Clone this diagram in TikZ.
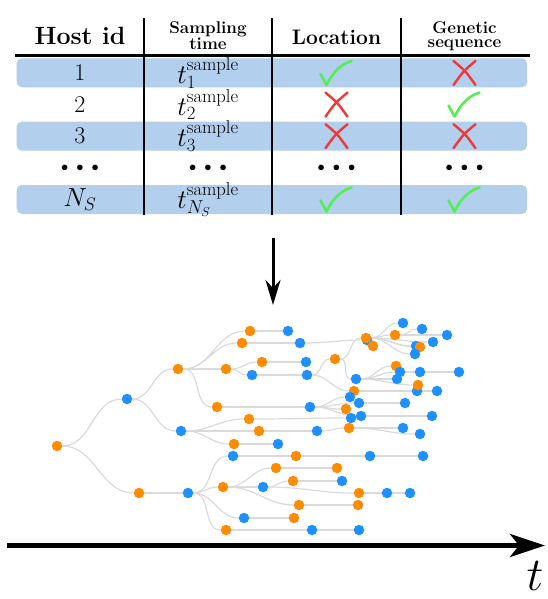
\documentclass[tikz,border=0pt]{standalone}
\usetikzlibrary{arrows.meta}
\definecolor{band}{RGB}{178,207,237}
\definecolor{ornode}{RGB}{255,140,0}
\definecolor{blnode}{RGB}{30,144,255}
\definecolor{edgegray}{RGB}{218,218,218}
\definecolor{chkgreen}{RGB}{85,238,85}
\definecolor{crossred}{RGB}{242,55,55}
\pgfdeclarelayer{bg}
\pgfsetlayers{bg,main}
\begin{document}
\begin{tikzpicture}[x=1pt,y=-1pt,
  onode/.style={circle,fill=ornode,inner sep=0pt,minimum size=10.5pt},
  bnode/.style={circle,fill=blnode,inner sep=0pt,minimum size=10.5pt},
  link/.style={draw=edgegray,line width=1.2pt},
  bandbox/.style={fill=band,rounded corners=5pt},
  rule/.style={line width=1.8pt},
  thickrule/.style={line width=3.6pt},
  cell/.style={font=\fontsize{24}{28}\selectfont,inner sep=0pt},
  tcell/.style={font=\fontsize{24}{28}\selectfont,inner sep=0pt,scale=1.08},
  dotcell/.style={font=\fontsize{15}{18}\selectfont,inner sep=0pt},
  headbig/.style={font=\fontsize{25}{28}\selectfont\bfseries,inner sep=0pt},
  headmid/.style={font=\fontsize{21}{24}\selectfont\bfseries,inner sep=0pt},
  headtwo/.style={font=\fontsize{17}{14.5}\selectfont\bfseries,align=center,inner sep=0pt},
  chk/.pic={\draw[chkgreen,line width=2.6pt,line cap=round,line join=round]
      (-16,1) .. controls (-13,6) .. (-10,12) .. controls (-4,0) and (4,-9) .. (15,-12);},
  crs/.pic={\draw[crossred,line width=2.4pt,line cap=round]
      (-11,-12) .. controls (1,-2) .. (11,12);
    \draw[crossred,line width=2.4pt,line cap=round]
      (11,-12) .. controls (-1,-2) .. (-11,12);},
  bigarrow/.style={line width=3pt,-{Stealth[length=25pt,width=15pt,inset=8pt]}},
  axis/.style={line width=5pt,-{Stealth[length=35pt,width=23pt,inset=9pt]}}
]
\useasboundingbox (0,0) rectangle (548,599);

% ---------- table ----------
\fill[bandbox] (16.7,58.3) rectangle (527,87.3);
\fill[bandbox] (16.7,121.7) rectangle (527,150.7);
\fill[bandbox] (16.7,185) rectangle (527,214);
\draw[thickrule] (15,55.7) -- (530,55.7);
\draw[rule] (144,18) -- (144,215);
\draw[rule] (272,18) -- (272,215);
\draw[rule] (401,18) -- (401,215);

\node[headbig] (h1) at (80,36) {Host id};
\node[headtwo] (h2) at (208,36) {Sampling\\time};
\node[headmid] (h3) at (336.5,37) {Location};
\node[headtwo] (h4) at (464.5,36) {Genetic\\sequence};

\node[cell] (r1a) at (80,73) {1};
\node[tcell] (r1b) at (208,73) {$t_1^{\mathrm{sample}}$};
\pic at (336.5,73) {chk};
\pic at (464.5,73) {crs};

\node[cell] (r2a) at (80,104.6) {2};
\node[tcell] (r2b) at (208,104.6) {$t_2^{\mathrm{sample}}$};
\pic at (336.5,104.6) {crs};
\pic at (464.5,104.6) {chk};

\node[cell] (r3a) at (80,136.2) {3};
\node[tcell] (r3b) at (208,136.2) {$t_3^{\mathrm{sample}}$};
\pic at (336.5,136.2) {crs};
\pic at (464.5,136.2) {crs};

\node[dotcell] (r4a) at (80,167.8) {$\bullet\,\,\bullet\,\,\bullet$};
\node[dotcell] (r4b) at (208,167.8) {$\bullet\,\,\bullet\,\,\bullet$};
\node[dotcell] (r4c) at (336.5,167.8) {$\bullet\,\,\bullet\,\,\bullet$};
\node[dotcell] (r4d) at (464.5,167.8) {$\bullet\,\,\bullet\,\,\bullet$};

\node[cell,scale=1.05] (r5a) at (80,199.5) {$N_S$};
\node[tcell] (r5b) at (208,199.5) {$t_{N_S}^{\mathrm{sample}}$};
\pic at (336.5,199.5) {chk};
\pic at (464.5,199.5) {chk};

% ---------- arrow ----------
\coordinate (arrS) at (273,238);
\coordinate (arrE) at (273,305);
\draw[bigarrow] (arrS) -- (arrE);

% ---------- tree nodes ----------
\node[onode] (r) at (57,446) {};
\node[bnode] (a) at (127,399) {};
\node[onode] (b) at (139,493) {};
\node[onode] (c) at (178,369) {};
\node[bnode] (d) at (181,431) {};
\node[bnode] (e) at (188,493) {};
\node[onode] (c1) at (250,331) {};
\node[onode] (c2) at (242,343) {};
\node[onode] (c3) at (226,369) {};
\node[onode] (c4) at (217,407) {};
\node[bnode] (c1a) at (288,331) {};
\node[bnode] (c2a) at (300,343) {};
\node[onode] (c3a) at (262,362) {};
\node[bnode] (c3b) at (252,375) {};
\node[bnode] (c3a1) at (306,362) {};
\node[bnode] (c3b1) at (307,375) {};
\node[bnode] (c4a) at (310,407) {};
\node[onode] (d1) at (249,419) {};
\node[onode] (d2) at (259,431) {};
\node[onode] (d3) at (234,444) {};
\node[bnode] (d3a) at (278,444) {};
\node[bnode] (d2a) at (317,431) {};
\node[onode] (d2a1) at (349,428) {};
\node[bnode] (d2a1a) at (403,428) {};
\node[bnode] (d2a1b) at (420,434) {};
\node[bnode] (e1) at (233,456) {};
\node[onode] (e2) at (223,487) {};
\node[bnode] (e3) at (244,518) {};
\node[onode] (e4) at (226,530) {};
\node[onode] (e1a) at (296,456) {};
\node[bnode] (e1b) at (370,456) {};
\node[bnode] (e1c) at (423,456) {};
\node[onode] (e2a) at (276,468) {};
\node[onode] (e2a1) at (337,468) {};
\node[bnode] (e2b) at (263,487) {};
\node[onode] (e2b1) at (293,481) {};
\node[bnode] (e2b1a) at (342,481) {};
\node[onode] (e2b2) at (359,493) {};
\node[bnode] (e2b3) at (387,493) {};
\node[bnode] (e2b4) at (410,493) {};
\node[onode] (e2c) at (299,505) {};
\node[onode] (e2c1) at (358,505) {};
\node[onode] (e3a) at (294,518) {};
\node[bnode] (e4a) at (312,530) {};
\node[bnode] (e4b) at (359,530) {};
% top cluster
\node[bnode] (k1) at (367,340) {};
\node[onode] (m) at (335,359) {};
\node[onode] (k) at (366,338) {};
\node[bnode] (k2) at (403,323) {};
\node[onode] (k3) at (395,335) {};
\node[bnode] (k4) at (422,329) {};
\node[bnode] (k5) at (447,335) {};
\node[bnode] (k6) at (433,342) {};
\node[bnode] (k7) at (416,346) {};
\node[onode] (k8) at (420,347) {};
\node[bnode] (k9) at (415,354) {};
\node[onode] (k10) at (373,346) {};
\node[bnode] (p) at (356,379) {};
\node[onode] (p1) at (396,366) {};
\node[bnode] (p2) at (400,372) {};
\node[bnode] (p3) at (397,379) {};
\node[bnode] (p2a) at (420,372) {};
\node[bnode] (p2b) at (459,372) {};
\node[onode] (n) at (354,391) {};
\node[bnode] (n1) at (417,391) {};
\node[bnode] (n2) at (437,391) {};
\node[onode] (p4) at (418,385) {};
\node[bnode] (q1) at (350,397) {};
\node[onode] (q2) at (346,409) {};
\node[bnode] (q3) at (359,403) {};
\node[bnode] (d1a) at (351,418) {};
\node[bnode] (q4) at (361,416) {};
\node[bnode] (q3a) at (405,403) {};
\node[bnode] (q4a) at (432,416) {};

% ---------- tree links ----------
\begin{pgfonlayer}{bg}
\foreach \p/\q in {r/a,r/b,a/c,a/d,b/e,
  c/c1,c/c2,c/c3,c/c4,c1/c1a,c2/c2a,c3/c3a,c3/c3b,c3a/c3a1,c3b/c3b1,c4/c4a,
  d/d1,d/d2,d/d3,d3/d3a,d2/d2a,d2a/d2a1,d2a1/d2a1a,d2a1/d2a1b,d1/d1a,
  e/e1,e/e2,e/e3,e/e4,e1/e1a,e1a/e1b,e1b/e1c,e2/e2a,e2a/e2a1,e2/e2b,e2b/e2b1,
  e2b1/e2b1a,e2b/e2b2,e2b2/e2b3,e2b3/e2b4,e2/e2c,e2c/e2c1,e3/e3a,e4/e4a,e4a/e4b,
  c2a/k1,c3b1/m,m/k,k/k2,k/k3,k3/k4,k3/k5,k/k6,k/k7,k/k8,k/k9,k/k10,
  m/p,p/p1,p/p2,p/p3,p/p4,p2/p2a,p2a/p2b,c3b1/n,n/n1,n1/n2,
  c4a/q1,c4a/q2,c4a/q3,c4a/q4,q3/q3a,q4/q4a}
  \draw[link] (\p) to[out=0,in=180] (\q);
\end{pgfonlayer}

% ---------- time axis ----------
\coordinate (axS) at (7,545.5);
\coordinate (axE) at (545,545.5);
\draw[axis] (axS) -- (axE);
\node[font=\fontsize{24}{28}\selectfont,scale=1.9,inner sep=0pt] (tlab) at (535,576) {$t$};
\end{tikzpicture}
\end{document}
